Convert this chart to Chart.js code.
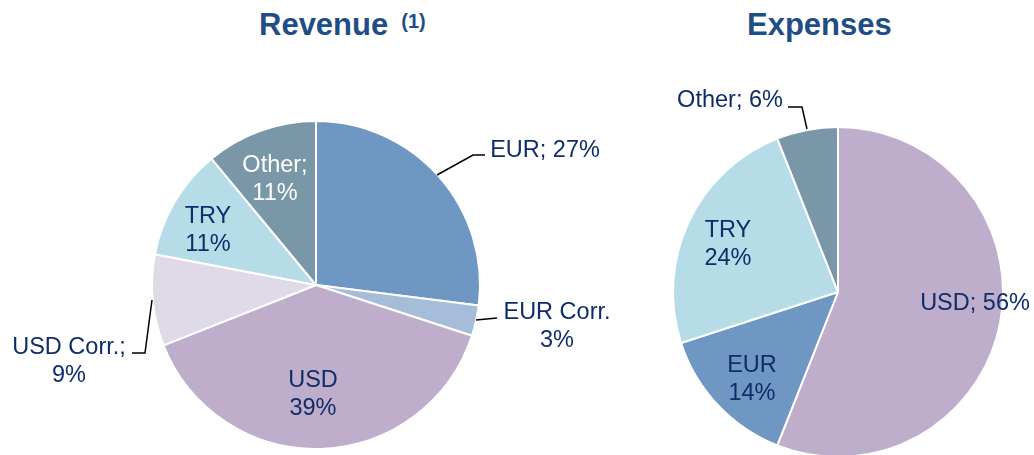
<!DOCTYPE html>
<html>
<head>
<meta charset="utf-8">
<script src="https://cdn.jsdelivr.net/npm/chart.js@4"></script>
<style>
  html, body { margin: 0; padding: 0; background: #fff; overflow: hidden; }
  body { width: 1034px; height: 455px; position: relative; font-family: "Liberation Sans", Arial, sans-serif; }
  canvas { position: absolute; top: 0; }
  #revCanvas { left: 0; }
  #expCanvas { left: 520px; }
  .title { position: absolute; top: 9px; font-size: 31px; line-height: 31px; font-weight: bold; color: #1F4E86; white-space: nowrap; }
  .title sup { font-size: 20px; position: relative; top: -3px; margin-left: 13px; vertical-align: top; }
</style>
</head>
<body>
<div class="title" style="left:259px">Revenue<sup>(1)</sup></div>
<div class="title" style="left:747px">Expenses</div>
<canvas id="revCanvas" width="632" height="455"></canvas>
<canvas id="expCanvas" width="514" height="470"></canvas>
<script>
// Revenue split by currency (%)
const revenueLabels = ['EUR', 'EUR Corr.', 'USD', 'USD Corr.', 'TRY', 'Other'];
const revenueValues = [27, 3, 39, 9, 11, 11];
const revenueColors = ['#6E97C3', '#A5BDD9', '#BEADCB', '#E0D9E8', '#B6DDE7', '#7A97A8'];

// Expenses split by currency (%)
const expenseLabels = ['USD', 'EUR', 'TRY', 'Other'];
const expenseValues = [56, 14, 24, 6];
const expenseColors = ['#BEADCB', '#6E97C3', '#B6DDE7', '#7A97A8'];

// label placement, relative to pie centre (px)
const revenueLayout = [
    { sep: '; ', dx: 229, dy: -128, line: [[121, -110], [157, -130], [169, -130]] },
    { sep: '\n', dx: 241, dy: 34, line: [[160, 35], [181, 33]] },
    { sep: '\n', dx: -3, dy: 102 },
    { sep: ';\n', dx: -247, dy: 69, line: [[-164, 15], [-171, 68], [-184, 68]] },
    { sep: '\n', dx: -108, dy: -62 },
    { sep: ';\n', dx: -41, dy: -113, color: '#FFFFFF' }
];
const expenseLayout = [
    { sep: '; ', dx: 137, dy: 18 },
    { sep: '\n', dx: -86, dy: 80 },
    { sep: '\n', dx: -110, dy: -55 },
    { sep: '; ', dx: -108, dy: -185, line: [[-50, -185], [-36, -185], [-31, -163]] }
];

const LABEL_COLOR = '#0F2D69';
const LINE_HEIGHT = 28;

const sliceLabels = {
    id: 'sliceLabels',
    afterDatasetsDraw(chart, args, opts) {
        const ctx = chart.ctx;
        const meta = chart.getDatasetMeta(0);
        const labels = chart.data.labels;
        const values = chart.data.datasets[0].data;
        const center = meta.data[0].getProps(['x', 'y'], true);
        ctx.save();
        ctx.font = '23.5px "Liberation Sans", Arial, sans-serif';
        ctx.textAlign = 'center';
        ctx.textBaseline = 'alphabetic';
        opts.layout.forEach((l, i) => {
            if (l.line) {
                ctx.strokeStyle = '#000';
                ctx.lineWidth = 1.5;
                ctx.beginPath();
                l.line.forEach((p, j) => {
                    const px = center.x + p[0], py = center.y + p[1];
                    if (j === 0) ctx.moveTo(px, py); else ctx.lineTo(px, py);
                });
                ctx.stroke();
            }
            const text = labels[i] + l.sep + values[i] + '%';
            ctx.fillStyle = l.color || LABEL_COLOR;
            text.split('\n').forEach((t, k) => {
                ctx.fillText(t, center.x + l.dx, center.y + l.dy + k * LINE_HEIGHT);
            });
        });
        ctx.restore();
    }
};

function drawPie(id, labels, values, colors, layout, padding) {
    new Chart(document.getElementById(id), {
        type: 'pie',
        data: {
            labels: labels,
            datasets: [{
                data: values,
                backgroundColor: colors,
                borderColor: '#FFFFFF',
                borderWidth: 2
            }]
        },
        options: {
            responsive: false,
            animation: false,
            layout: { padding: padding },
            plugins: {
                legend: { display: false },
                tooltip: { enabled: false },
                sliceLabels: { layout: layout }
            }
        },
        plugins: [sliceLabels]
    });
}

drawPie('revCanvas', revenueLabels, revenueValues, revenueColors, revenueLayout,
    { left: 151, right: 151, top: 120, bottom: 5 });
drawPie('expCanvas', expenseLabels, expenseValues, expenseColors, expenseLayout,
    { left: 152, right: 30, top: 126, bottom: 12 });
</script>
</body>
</html>
